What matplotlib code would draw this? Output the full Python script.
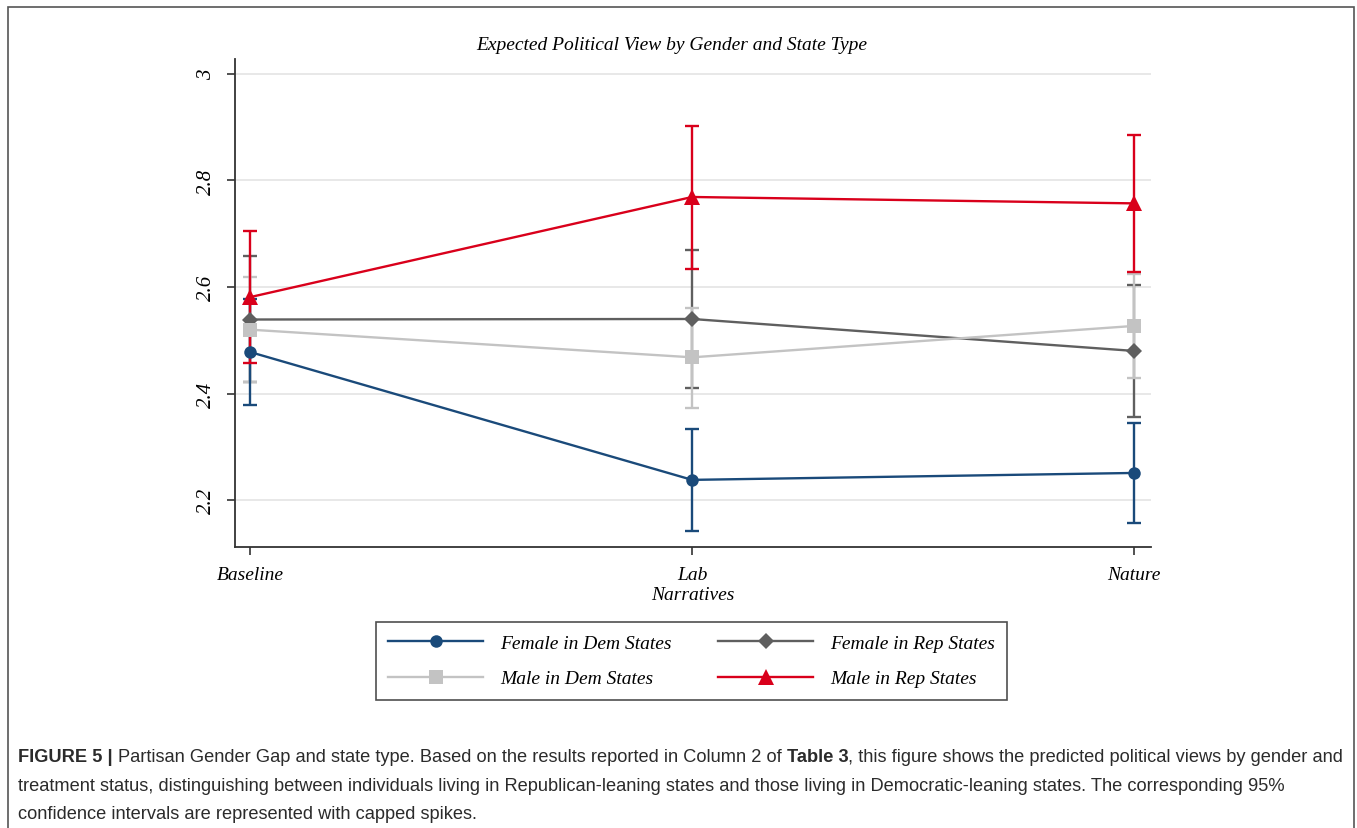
import matplotlib
matplotlib.use("Agg")
import matplotlib.pyplot as plt
from matplotlib.patches import Rectangle
from matplotlib.lines import Line2D

categories = ["Baseline", "Lab", "Nature"]
x_label = "Narratives"
title = "Expected Political View by Gender and State Type"

series_names = ["Female in Dem States", "Female in Rep States",
                "Male in Dem States", "Male in Rep States"]
female_dem = [2.478, 2.238, 2.251]
female_dem_lo = [2.378, 2.142, 2.157]
female_dem_hi = [2.578, 2.334, 2.344]

female_rep = [2.539, 2.540, 2.480]
female_rep_lo = [2.422, 2.410, 2.356]
female_rep_hi = [2.658, 2.669, 2.604]

male_dem = [2.520, 2.468, 2.527]
male_dem_lo = [2.421, 2.373, 2.429]
male_dem_hi = [2.619, 2.561, 2.625]

male_rep = [2.581, 2.769, 2.757]
male_rep_lo = [2.457, 2.633, 2.628]
male_rep_hi = [2.705, 2.903, 2.886]

yticks = [2.2, 2.4, 2.6, 2.8, 3.0]
ytick_labels = ["2.2", "2.4", "2.6", "2.8", "3"]

caption_lines = [
    [("FIGURE 5 | ", True), ("Partisan Gender Gap and state type. Based on the results reported in Column 2 of ", False),
     ("Table 3", True), (", this figure shows the predicted political views by gender and", False)],
    [("treatment status, distinguishing between individuals living in Republican-leaning states and those living in Democratic-leaning states. The corresponding 95%", False)],
    [("confidence intervals are represented with capped spikes.", False)],
]

colors = ["#1a4a7a", "#5f5f5f", "#c3c3c3", "#d9001b"]
markers = ["o", "D", "s", "^"]
msizes = [9, 8.5, 10, 12]

W, H = 1357, 829
fig = plt.figure(figsize=(W / 100, H / 100), dpi=100)
fig.patch.set_facecolor("white")

serif = ["Liberation Serif", "DejaVu Serif"]

ax = fig.add_axes([235 / W, 1 - 548 / H, (1151 - 235) / W, (548 - 60) / H])
x = list(range(len(categories)))

vals = [female_dem, female_rep, male_dem, male_rep]
los = [female_dem_lo, female_rep_lo, male_dem_lo, male_rep_lo]
his = [female_dem_hi, female_rep_hi, male_dem_hi, male_rep_hi]

ci_order = [1, 2, 0, 3]
for k, i in enumerate(ci_order):
    yerr = [[v - l for v, l in zip(vals[i], los[i])], [h - v for v, h in zip(vals[i], his[i])]]
    ax.errorbar(x, vals[i], yerr=yerr, fmt="none", ecolor=colors[i], elinewidth=1.7,
                capsize=4.8, capthick=1.7, zorder=2 + k * 0.1)

for i in range(4):
    ax.plot(x, vals[i], color=colors[i], lw=1.7, marker=markers[i], ms=msizes[i],
            markeredgewidth=0, zorder=4 + i * 0.1, label=series_names[i])

ax.set_xlim(-0.034, 2.038)
ax.set_ylim(2.112, 3.028)
ax.set_yticks(yticks)
ax.set_yticklabels(ytick_labels, rotation=90, va="center", fontfamily=serif,
                   fontstyle="italic", fontsize=15)
ax.set_xticks(x)
ax.set_xticklabels(categories, fontfamily=serif, fontstyle="italic", fontsize=14)
ax.set_xlabel(x_label, fontfamily=serif, fontstyle="italic", fontsize=14, labelpad=2)
ax.tick_params(axis="both", direction="out", length=6, width=1.2, color="#333333", pad=8)
ax.grid(axis="y", color="#e6e6e6", lw=1.3)
ax.set_axisbelow(True)
for s in ["top", "right"]:
    ax.spines[s].set_visible(False)
for s in ["left", "bottom"]:
    ax.spines[s].set_color("#333333")
    ax.spines[s].set_linewidth(1.3)

fig.text(672 / W, 1 - 45 / H, title, ha="center", va="center", fontfamily=serif,
         fontstyle="italic", fontsize=14)

handles = [Line2D([0], [0], color=colors[i], lw=1.7, marker=markers[i], ms=msizes[i],
                  markeredgewidth=0) for i in range(4)]
order = [0, 2, 1, 3]
leg = fig.legend([handles[i] for i in order], [series_names[i] for i in order],
                 loc="center", bbox_to_anchor=(691.5 / W, 1 - 662 / H),
                 ncol=2, frameon=True, fancybox=False, edgecolor="#222222",
                 prop={"family": serif, "style": "italic", "size": 14},
                 handlelength=4.9, columnspacing=2.4, labelspacing=0.9, borderpad=0.65,
                 handletextpad=0.85, borderaxespad=0)
leg.get_frame().set_linewidth(1.2)

# outer panel box
fig.patches.append(Rectangle((8 / W, -0.02), (1354 - 8) / W, 1 - 8 / H + 0.02,
                             transform=fig.transFigure, fill=False, edgecolor="#555555", lw=1.2))

# caption with mixed bold
fig.canvas.draw()
renderer = fig.canvas.get_renderer()
cap_font = ["Liberation Sans", "DejaVu Sans"]
line_y = [758, 787, 815]
for li, segs in enumerate(caption_lines):
    xpix = 18
    for txt, bold in segs:
        t = fig.text(xpix / W, 1 - line_y[li] / H, txt, ha="left", va="center",
                     fontfamily=cap_font, fontweight="bold" if bold else "normal",
                     fontsize=13.15, color="#2b2b2b")
        bb = t.get_window_extent(renderer=renderer)
        xpix += bb.width

fig.savefig("out.png", dpi=100)
